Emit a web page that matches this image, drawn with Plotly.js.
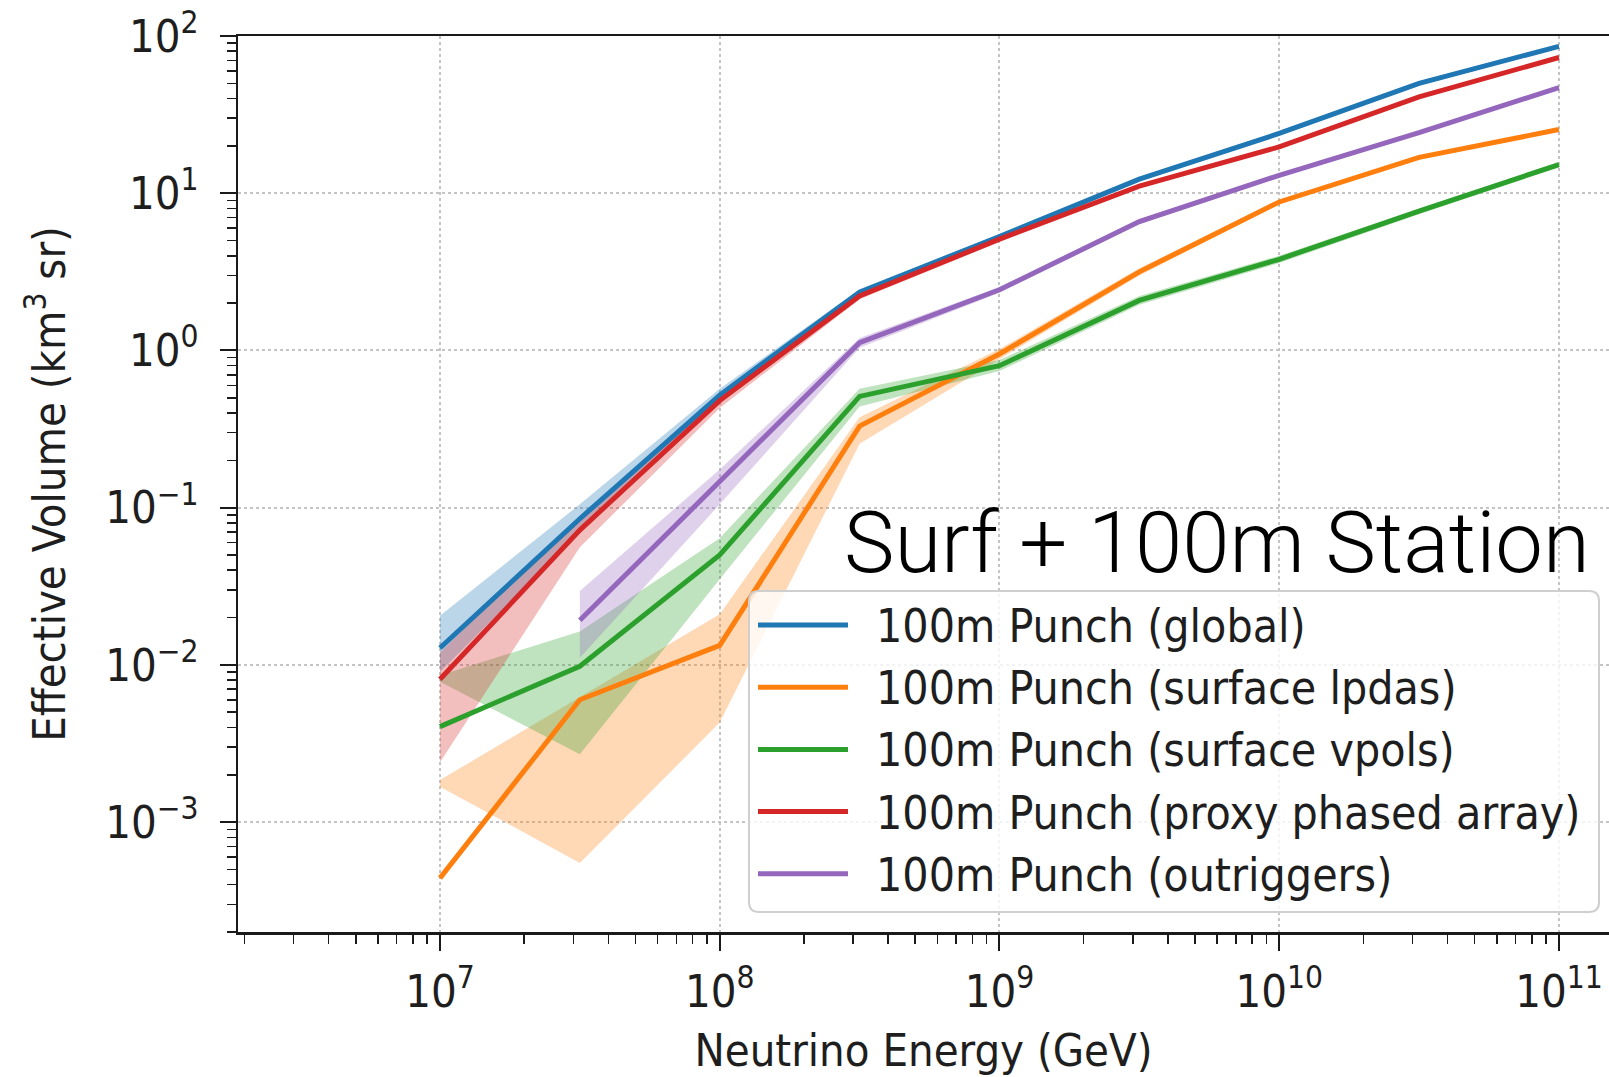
<!DOCTYPE html>
<html>
<head>
<meta charset="utf-8">
<script src="https://cdn.plot.ly/plotly-3.0.1.min.js"></script>
<style>
html,body{margin:0;padding:0;background:#ffffff;}
#chart{width:1609px;height:1077px;}
</style>
</head>
<body>
<div id="chart"></div>
<script>
// ---------------- data ----------------
const energies = [1e7, 3.1623e7, 1e8, 3.1623e8, 1e9, 3.1623e9, 1e10, 3.1623e10, 1e11];

const seriesNames = [
  "100m Punch (global)",
  "100m Punch (surface lpdas)",
  "100m Punch (surface vpols)",
  "100m Punch (proxy phased array)",
  "100m Punch (outriggers)"
];
const seriesColors = ["#1f77b4", "#ff7f0e", "#2ca02c", "#d62728", "#9467bd"];

const globalVeff = [0.0128, 0.085, 0.52, 2.35, 5.3, 12.3, 24.0, 50.0, 86.0];
const globalLow  = [0.0090, 0.070, 0.48, 2.25, 5.1, 11.9, 23.2, 48.5, 83.5];
const globalHigh = [0.0205, 0.105, 0.57, 2.45, 5.5, 12.7, 24.8, 51.5, 88.5];

const lpdaVeff = [0.00044, 0.0060, 0.0133, 0.33, 0.95, 3.16, 8.8, 16.9, 25.4];
const lpdaLow  = [0.00168, 0.00055, 0.0043, 0.255, 0.88, 3.00, 8.5, 16.4, 24.7];
const lpdaHigh = [0.00185, 0.0062, 0.021, 0.376, 1.02, 3.33, 9.1, 17.4, 26.1];

const vpolVeff = [0.00405, 0.0098, 0.050, 0.51, 0.80, 2.08, 3.8, 7.7, 15.2];
const vpolLow  = [0.0078, 0.0027, 0.035, 0.44, 0.74, 1.95, 3.6, 7.35, 14.6];
const vpolHigh = [0.0086, 0.0163, 0.064, 0.57, 0.87, 2.22, 4.0, 8.0, 15.8];

const phasedVeff = [0.0081, 0.072, 0.48, 2.22, 5.1, 11.1, 19.7, 41.0, 73.0];
const phasedLow  = [0.0024, 0.056, 0.43, 2.12, 4.9, 10.8, 19.1, 40.0, 71.0];
const phasedHigh = [0.0120, 0.088, 0.52, 2.32, 5.3, 11.4, 20.3, 42.0, 75.0];

const outrigVeff = [null, 0.0192, 0.145, 1.12, 2.43, 6.6, 13.0, 24.3, 47.0];
const outrigLow  = [null, 0.0111, 0.105, 1.04, 2.33, 6.35, 12.6, 23.6, 45.8];
const outrigHigh = [null, 0.0295, 0.175, 1.20, 2.53, 6.85, 13.4, 25.0, 48.2];

const xTickVals = [1e7, 1e8, 1e9, 1e10, 1e11];
const xTickText = ["10<sup>7</sup>", "10<sup>8</sup>", "10<sup>9</sup>", "10<sup>10</sup>", "10<sup>11</sup>"];
const yTickVals = [1e-3, 1e-2, 1e-1, 1e0, 1e1, 1e2];
const yTickText = ["10<sup>\u22123</sup>", "10<sup>\u22122</sup>", "10<sup>\u22121</sup>", "10<sup>0</sup>", "10<sup>1</sup>", "10<sup>2</sup>"];

const stationLabel = "Surf + 100m Station";
const xTitle = "Neutrino Energy (GeV)";
const yTitle = "Effective Volume (km<sup>3</sup> sr)";

// ---------------- build ----------------
const means = [globalVeff, lpdaVeff, vpolVeff, phasedVeff, outrigVeff];
const lows  = [globalLow, lpdaLow, vpolLow, phasedLow, outrigLow];
const highs = [globalHigh, lpdaHigh, vpolHigh, phasedHigh, outrigHigh];

function rgba(hex, a) {
  const r = parseInt(hex.slice(1,3),16), g = parseInt(hex.slice(3,5),16), b = parseInt(hex.slice(5,7),16);
  return `rgba(${r},${g},${b},${a})`;
}

const traces = [];
// bands first (below all lines)
for (let s = 0; s < means.length; s++) {
  const xs = [], lo = [], hi = [];
  for (let i = 0; i < energies.length; i++) {
    if (lows[s][i] !== null && highs[s][i] !== null) {
      xs.push(energies[i]); lo.push(lows[s][i]); hi.push(highs[s][i]);
    }
  }
  traces.push({
    x: xs.concat(xs.slice().reverse()),
    y: hi.concat(lo.slice().reverse()),
    type: 'scatter', mode: 'lines', fill: 'toself',
    fillcolor: rgba(seriesColors[s], 0.3),
    line: {width: 0, color: rgba(seriesColors[s], 0)},
    hoverinfo: 'skip', showlegend: false
  });
}
for (let s = 0; s < means.length; s++) {
  traces.push({
    x: energies, y: means[s], name: seriesNames[s],
    type: 'scatter', mode: 'lines',
    line: {color: seriesColors[s], width: 5},
    connectgaps: false, showlegend: false
  });
}

// plot-area pixel frame (used only to place the legend box / note)
const FR = {l: 238, r: 1609, t: 36, b: 932};
const px = v => (v - FR.l) / (FR.r - FR.l);
const py = v => (FR.b - v) / (FR.b - FR.t);

const FONT = "DejaVu Sans Condensed, DejaVu Sans, sans-serif";
const TXT = "#1e1e1e";

const shapes = [];
const annotations = [];

// rounded legend frame
(function () {
  const x0 = px(749), x1 = px(1599), y0 = py(912), y1 = py(591);
  const rx = 10 / (FR.r - FR.l), ry = 10 / (FR.b - FR.t);
  const path = `M ${x0+rx},${y0} L ${x1-rx},${y0} Q ${x1},${y0} ${x1},${y0+ry} L ${x1},${y1-ry} Q ${x1},${y1} ${x1-rx},${y1} L ${x0+rx},${y1} Q ${x0},${y1} ${x0},${y1-ry} L ${x0},${y0+ry} Q ${x0},${y0} ${x0+rx},${y0} Z`;
  shapes.push({type: 'path', xref: 'paper', yref: 'paper', path: path,
    fillcolor: 'rgba(255,255,255,0.8)', line: {color: '#cfcfcf', width: 2}, layer: 'above'});
})();

for (let s = 0; s < seriesNames.length; s++) {
  const yy = 625 + 62.2 * s;
  shapes.push({type: 'line', xref: 'paper', yref: 'paper',
    x0: px(758), x1: px(848), y0: py(yy), y1: py(yy),
    line: {color: seriesColors[s], width: 5}, layer: 'above'});
  annotations.push({xref: 'paper', yref: 'paper', x: px(874), y: py(yy + 1),
    xanchor: 'left', yanchor: 'middle', showarrow: false,
    text: seriesNames[s], font: {family: FONT, size: 46, color: TXT}});
}

annotations.push({xref: 'paper', yref: 'paper', x: px(842), y: py(543),
  xanchor: 'left', yanchor: 'middle', showarrow: false,
  text: stationLabel, font: {family: "Roboto, 'Liberation Sans', sans-serif", size: 85, color: '#000', weight: 300}});

const axisCommon = {
  type: 'log', showline: true, linecolor: '#1a1a1a', linewidth: 2.5,
  ticks: 'outside', ticklen: 16, tickwidth: 2, tickcolor: '#1a1a1a',
  tickmode: 'array',
  tickfont: {family: FONT, size: 45, color: TXT},
  showgrid: true, gridcolor: '#c4c4c4', gridwidth: 2, griddash: 'dot',
  zeroline: false, automargin: false,
  minor: {ticks: 'outside', ticklen: 9, tickwidth: 1.5, tickcolor: '#1a1a1a', dtick: 'D1', showgrid: false}
};

const layout = {
  width: 1609, height: 1077,
  margin: {l: FR.l, r: 1609 - FR.r, t: FR.t, b: 1077 - FR.b, pad: 0},
  paper_bgcolor: '#ffffff', plot_bgcolor: '#ffffff',
  showlegend: false,
  xaxis: Object.assign({}, axisCommon, {
    range: [6.278, 11.179], mirror: true,
    tickvals: xTickVals, ticktext: xTickText,
    ticklabelstandoff: 2,
    title: {text: xTitle, font: {family: FONT, size: 45, color: TXT}, standoff: 21}
  }),
  yaxis: Object.assign({}, axisCommon, {
    range: [Math.log10(2e-4), 2], mirror: false,
    tickvals: yTickVals, ticktext: yTickText,
    ticklabelstandoff: 12,
    title: {text: yTitle, font: {family: FONT, size: 45, color: TXT}, standoff: 26}
  }),
  shapes: shapes,
  annotations: annotations
};

Plotly.newPlot('chart', traces, layout, {displayModeBar: false, staticPlot: true});
</script>
</body>
</html>
